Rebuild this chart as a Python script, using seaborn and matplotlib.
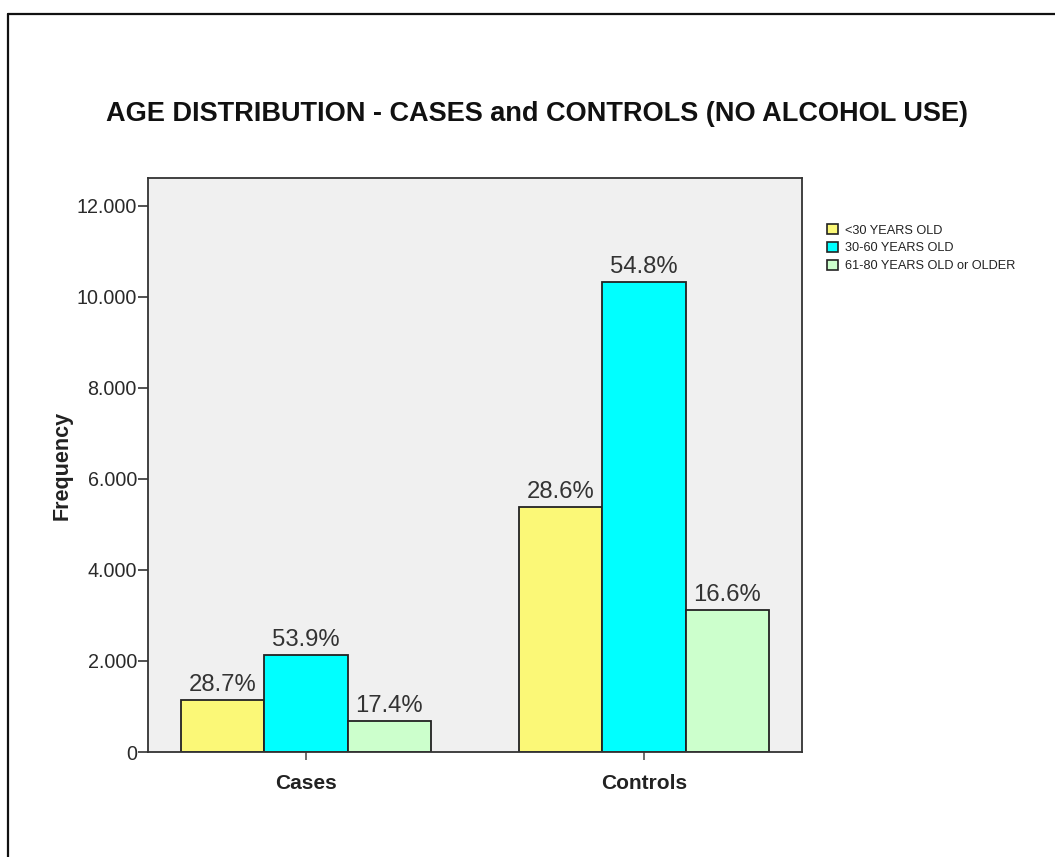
import matplotlib
matplotlib.use("Agg")
import matplotlib.pyplot as plt
from matplotlib.lines import Line2D
from matplotlib.ticker import FuncFormatter
import seaborn as sns
import pandas as pd

# Frequencies by study group and age band
groups = ["Cases", "Controls"]
age_bands = ["<30 YEARS OLD", "30-60 YEARS OLD", "61-80 YEARS OLD or OLDER"]
cases_counts = [1134, 2130, 688]
controls_counts = [5385, 10330, 3120]
band_colors = ["#FBF877", "#00FFFF", "#CCFFCC"]
title_text = "AGE DISTRIBUTION - CASES and CONTROLS (NO ALCOHOL USE)"

rows = []
for grp, counts in zip(groups, [cases_counts, controls_counts]):
    total = sum(counts)
    for band, c in zip(age_bands, counts):
        rows.append({"Group": grp, "Age": band, "Frequency": c,
                     "Pct": 100.0 * c / total})
df = pd.DataFrame(rows)

sns.set_theme(style="white")
plt.rcParams["font.family"] = ["Liberation Sans", "DejaVu Sans"]

fig = plt.figure(figsize=(10.55, 8.57), dpi=100)
ax = fig.add_axes([148 / 1055, 1 - 752 / 857, 654 / 1055, 574 / 857])
ax.set_facecolor("#F0F0F0")

sns.barplot(data=df, x="Group", y="Frequency", hue="Age", order=groups,
            hue_order=age_bands, palette=band_colors, width=0.74, gap=0,
            edgecolor="#222222", linewidth=1.3, saturation=1, ax=ax,
            errorbar=None)

# percentage labels above each bar
for band, container in zip(age_bands, ax.containers):
    pcts = df[df["Age"] == band].set_index("Group").loc[groups, "Pct"]
    ax.bar_label(container, labels=[f"{p:.1f}%" for p in pcts], padding=3,
                 fontsize=17.2, color="#333333")

ax.set_xlim(-0.467, 1.467)
ax.set_ylim(0, 12615)
ax.set_yticks([0, 2000, 4000, 6000, 8000, 10000, 12000])
ax.yaxis.set_major_formatter(FuncFormatter(lambda v, p: f"{v:,.0f}".replace(",", ".")))
ax.tick_params(axis="y", direction="out", length=7, width=1.2, color="#333333",
               labelsize=14.2, labelcolor="#2a2a2a", pad=1, left=True)
ax.tick_params(axis="x", direction="out", length=6, width=1.2, color="#555555",
               labelsize=15, labelcolor="#222222", pad=10, bottom=True)
for lbl in ax.get_xticklabels():
    lbl.set_fontweight("bold")

ax.set_xlabel("")
ax.set_ylabel("Frequency", fontsize=15.5, fontweight="bold", color="#222222",
              labelpad=3)
for side in ax.spines.values():
    side.set_visible(True)
    side.set_color("#333333")
    side.set_linewidth(1.3)

fig.text(537 / 1055, 1 - 114 / 857, title_text, ha="center", va="center",
         fontsize=19.5, fontweight="bold", color="#111111")

handles = [plt.Rectangle((0, 0), 1, 1, facecolor=c, edgecolor="#222222",
                         linewidth=1.2) for c in band_colors]
ax.legend(handles, age_bands, loc="upper left",
          bbox_to_anchor=(827 / 1055, 1 - 224 / 857),
          bbox_transform=fig.transFigure, frameon=False, fontsize=9.2,
          handlelength=0.85, handleheight=0.85, handletextpad=0.55,
          labelspacing=0.42, borderpad=0, borderaxespad=0,
          labelcolor="#222222")

# outer frame lines along the left and top edges
fig.add_artist(Line2D([8 / 1055, 8 / 1055], [-0.01, 1 - 14 / 857],
                      transform=fig.transFigure, color="#111111", linewidth=1.6))
fig.add_artist(Line2D([8 / 1055, 1.01], [1 - 14 / 857, 1 - 14 / 857],
                      transform=fig.transFigure, color="#111111", linewidth=1.6))

fig.savefig("out.png", dpi=100, facecolor="white")
